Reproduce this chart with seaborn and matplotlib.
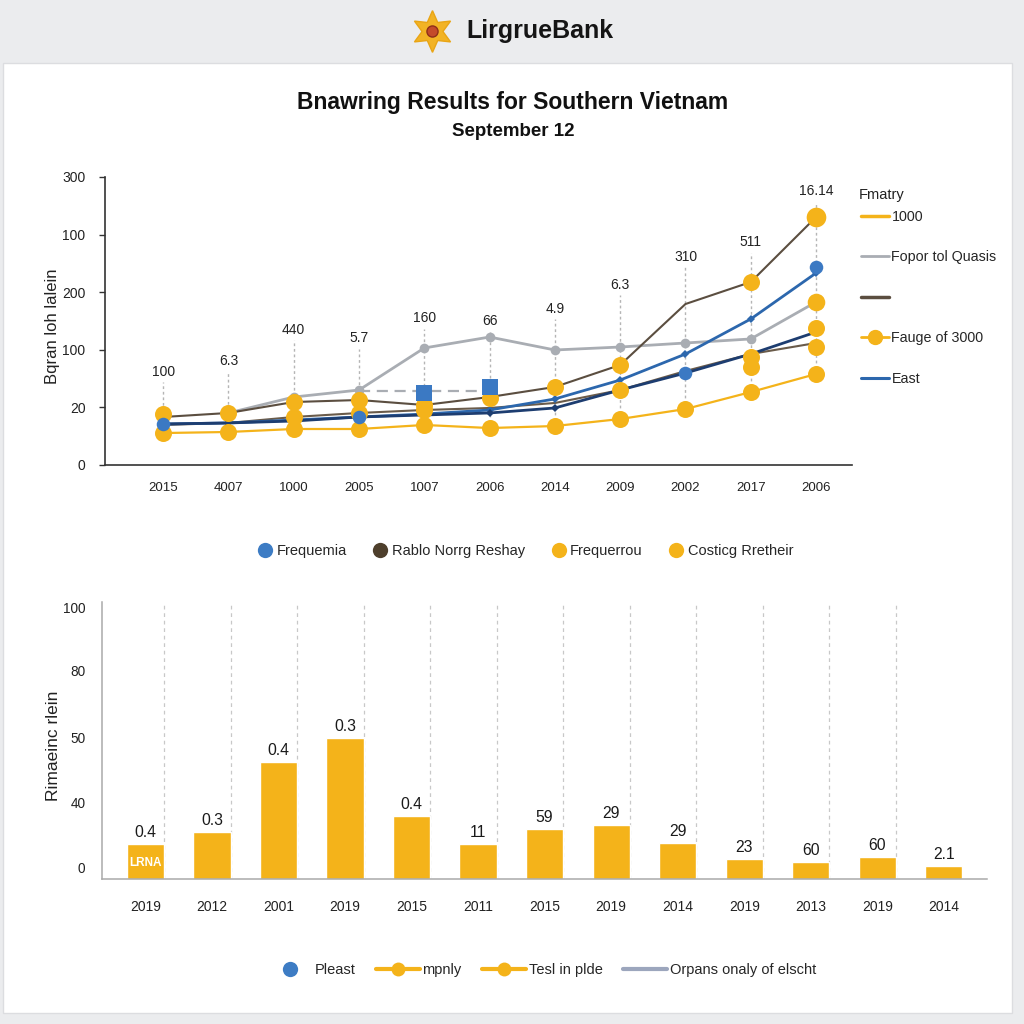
import numpy as np
import pandas as pd
import matplotlib
matplotlib.use("Agg")
import matplotlib.pyplot as plt
import seaborn as sns
from matplotlib.lines import Line2D
from matplotlib.patches import Rectangle

sns.set_theme(style="white")
plt.rcParams["font.family"] = ["Liberation Sans", "DejaVu Sans"]

nan = np.nan

# ---------------- data: top line chart ----------------
top_years = ["2015", "4007", "1000", "2005", "1007", "2006", "2014", "2009", "2002", "2017", "2006"]
top_annots = ["100", "6.3", "440", "5.7", "160", "66", "4.9", "6.3", "310", "511", "16.14"]
top_annot_heights = [97, 108, 141, 132, 153, 150, 163, 188, 217, 232, 285]
top_ytick_labels = ["0", "20", "100", "200", "100", "300"]

brown_upper = [50.0, 54.2, 65.6, 67.7, 62.5, 70.8, 81.3, 104.2, 167.7, 190.6, 258.3]
gray_series = [nan, 54.2, 70.8, 78.1, 121.9, 133.3, 119.8, 122.9, 127.1, 131.3, 169.8]
gray_dash = [nan, nan, nan, 77.1, 77.1, 77.1, nan, nan, nan, nan, nan]
blue_squares = [nan, nan, nan, nan, 75.0, 81.3, nan, nan, nan, nan, nan]
navy_series = [42.7, 43.8, 45.8, 50.0, 52.1, 54.2, 59.4, 78.1, 95.8, 115.6, 138.5]
blue_series = [42.7, 43.8, 46.9, 50.0, 53.1, 57.3, 68.8, 88.5, 115.6, 152.1, 200.0]
brown_lower = [41.7, 43.8, 50.0, 54.2, 57.3, 59.4, 64.6, 78.1, 97.9, 115.6, 127.1]
gold_low = [33.3, 34.4, 37.5, 37.5, 41.7, 38.5, 40.6, 47.9, 58.3, 76.0, 94.8]
gold_upper = [53.1, 54.2, 65.6, 67.7, 62.5, 69.8, 81.3, 104.2, nan, 190.6, nan]
gold_big = [nan, nan, nan, nan, nan, nan, nan, nan, nan, nan, 258.3]
gold_mid = [nan, nan, 50.0, 54.2, 57.3, nan, nan, 78.1, nan, 112.5, 142.7]
gold_extra = [nan, nan, nan, nan, nan, nan, nan, nan, nan, 102.1, 122.9]
gold_end = [nan, nan, nan, nan, nan, nan, nan, nan, nan, nan, 169.8]
blue_dots = [42.7, nan, nan, 50.0, nan, nan, nan, nan, 95.8, nan, 206.3]

# ---------------- data: bottom bar chart ----------------
bar_years = ["2019", "2012", "2001", "2019", "2015", "2011", "2015", "2019", "2014", "2019", "2013", "2019", "2014"]
bar_values = [13.5, 18.1, 45.2, 54.4, 24.3, 13.5, 19.3, 20.8, 13.9, 7.7, 6.6, 8.5, 5.0]
bar_labels = ["0.4", "0.3", "0.4", "0.3", "0.4", "11", "59", "29", "29", "23", "60", "60", "2.1"]
bar_ytick_labels = ["0", "40", "50", "80", "100"]

# ---------------- colours ----------------
GOLD = "#F4B31A"
BROWN = "#5b4e40"
NAVY = "#1d3d70"
BLUE = "#2c67ad"
BLUE_DOT = "#3b79c3"
GRAY = "#a9adb3"

fig = plt.figure(figsize=(10.24, 10.24), dpi=100)
fig.patch.set_facecolor("#ebecee")
fig.add_artist(Rectangle((3 / 1024, 1 - 1013 / 1024), 1009 / 1024, 950 / 1024,
                         transform=fig.transFigure, facecolor="white",
                         edgecolor="#dcdde0", lw=1, zorder=0))

# header logo + name
fig.add_artist(Line2D([432 / 1024], [1 - 31 / 1024], marker=(6, 1, 0), markersize=30,
                      color="#F2B325", markeredgecolor="#E9A515", transform=fig.transFigure))
fig.add_artist(Line2D([432 / 1024], [1 - 31 / 1024], marker="o", markersize=8,
                      color="#c44a2a", markeredgecolor="#8e2f1a", transform=fig.transFigure))
fig.text(466 / 1024, 1 - 31 / 1024, "LirgrueBank", fontsize=18, fontweight="bold",
         color="#151515", va="center", ha="left")

fig.text(0.501, 1 - 102 / 1024, "Bnawring Results for Southern Vietnam",
         fontsize=16.5, fontweight="bold", color="#111111", ha="center", va="center")
fig.text(0.501, 1 - 131 / 1024, "September 12", fontsize=13.5, fontweight="bold",
         color="#111111", ha="center", va="center")

# ---------------- top chart ----------------
ax1 = fig.add_axes([105 / 1024, 1 - 465 / 1024, 747 / 1024, 288 / 1024])
ax1.set_facecolor("none")
idx = np.arange(len(top_years))

def s(vals):
    ser = pd.Series(vals, index=idx, dtype=float)
    return ser.dropna()

# vertical dotted guide lines + annotations
all_series = [brown_upper, gray_series, navy_series, blue_series, brown_lower, gold_low]
for i in idx:
    low = np.nanmin([a[i] for a in all_series])
    ax1.vlines(i, low, top_annot_heights[i] - 11, colors="#b5b5b5", linestyles=(0, (2, 2)),
               lw=1, zorder=1)
    ax1.text(i, top_annot_heights[i], top_annots[i], ha="center", va="center",
             fontsize=10, color="#222222")

g = s(gray_series)
sns.lineplot(x=g.index, y=g.values, ax=ax1, color=GRAY, lw=2, marker="o", markersize=7,
             markeredgewidth=0, zorder=2)
gd = s(gray_dash)
sns.lineplot(x=gd.index, y=gd.values, ax=ax1, color=GRAY, lw=1.6, dashes=False,
             linestyle=(0, (5, 3)), zorder=2)
b = s(brown_upper)
sns.lineplot(x=b.index, y=b.values, ax=ax1, color=BROWN, lw=1.5, zorder=3)
bl = s(brown_lower)
sns.lineplot(x=bl.index, y=bl.values, ax=ax1, color="#6a5b4a", lw=1.5, zorder=3)
bs = s(blue_series)
sns.lineplot(x=bs.index, y=bs.values, ax=ax1, color=BLUE, lw=2, marker="D", markersize=4,
             markeredgewidth=0, zorder=4)
ns = s(navy_series)
sns.lineplot(x=ns.index, y=ns.values, ax=ax1, color=NAVY, lw=2, marker="D", markersize=4,
             markeredgewidth=0, zorder=4)
gl = s(gold_low)
sns.lineplot(x=gl.index, y=gl.values, ax=ax1, color=GOLD, lw=1.6, zorder=4)

for arr, size in [(gold_low, 150), (gold_upper, 150), (gold_mid, 150), (gold_extra, 150),
                  (gold_end, 160), (gold_big, 200)]:
    ss = s(arr)
    sns.scatterplot(x=ss.index, y=ss.values, ax=ax1, color=GOLD, s=size, linewidth=0,
                    zorder=5, legend=False)
bd = s(blue_dots)
sns.scatterplot(x=bd.index, y=bd.values, ax=ax1, color=BLUE_DOT, s=95, linewidth=0,
                zorder=6, legend=False)
bq = s(blue_squares)
sns.scatterplot(x=bq.index, y=bq.values, ax=ax1, color=BLUE_DOT, marker="s", s=120,
                linewidth=0, zorder=6, legend=False)

ax1.set_xlim(-0.89, 10.55)
ax1.set_ylim(0, 300)
ax1.set_yticks(np.linspace(0, 300, len(top_ytick_labels)), labels=top_ytick_labels)
ax1.set_xticks(idx, labels=top_years)
ax1.set_xticks(np.arange(-0.5, 11, 1), minor=True)
ax1.tick_params(axis="x", which="major", length=0, pad=12, labelsize=9.5, labelcolor="#222")
ax1.tick_params(axis="x", which="minor", length=4, width=1, color="#333", direction="out")
ax1.tick_params(axis="y", length=4, width=1, color="#333", labelsize=10, labelcolor="#222",
                left=True, pad=10)
for sp in ["top", "right"]:
    ax1.spines[sp].set_visible(False)
for sp in ["left", "bottom"]:
    ax1.spines[sp].set_color("#333333")
    ax1.spines[sp].set_linewidth(1.2)
ax1.set_xlabel("")
ax1.set_ylabel("")
fig.text(53 / 1024, 1 - 326 / 1024, "Bqran loh lalein", rotation=90, fontsize=12,
         color="#222", ha="center", va="center")

# top legend
fig.text(859 / 1024, 1 - 195 / 1024, "Fmatry", fontsize=10.5, color="#222",
         ha="left", va="center")
h_top = [
    Line2D([], [], color=GOLD, lw=2.5),
    Line2D([], [], color=GRAY, lw=2),
    Line2D([], [], color=BROWN, lw=2.5),
    Line2D([], [], color=GOLD, lw=2, marker="o", markersize=10),
    Line2D([], [], color=BLUE, lw=2.2),
]
lab_top = ["1000", "Fopor tol Quasis", "", "Fauge of 3000", "East"]
fig.legend(h_top, lab_top, loc="upper left",
           bbox_to_anchor=(855 / 1024, 1 - 204 / 1024), frameon=False,
           fontsize=10.3, labelspacing=1.85, handlelength=2.0,
           handletextpad=0.15, borderaxespad=0)

# middle legend
h_mid = [Line2D([], [], ls="", marker="o", markersize=11, color=c, markeredgewidth=0)
         for c in ["#3d7cc4", "#4e3f2c", GOLD, GOLD]]
lab_mid = ["Frequemia", "Rablo Norrg Reshay", "Frequerrou", "Costicg Rretheir"]
fig.legend(h_mid, lab_mid, loc="center", bbox_to_anchor=(524 / 1024, 1 - 551 / 1024),
           ncol=4, frameon=False, fontsize=10.5, handletextpad=0.1, columnspacing=1.6,
           handlelength=1.4)

# ---------------- bottom bar chart ----------------
ax2 = fig.add_axes([102 / 1024, 1 - 879 / 1024, 885 / 1024, 277 / 1024])
ax2.set_facecolor("none")
bidx = np.arange(len(bar_values))
for i in bidx[:-1]:
    ax2.axvline(i + 0.28, color="#c8c8c8", ls=(0, (3, 3)), lw=0.9, zorder=0)
sns.barplot(x=bidx, y=bar_values, ax=ax2, color=GOLD, width=0.56, saturation=1,
            zorder=2)
ax2.bar_label(ax2.containers[0], labels=bar_labels, padding=3, fontsize=11.3, color="#1a1a1a")
ax2.text(0, 6.3, "LRNA", ha="center", va="center", fontsize=8.5, fontweight="bold",
         color="white", zorder=3)
ax2.set_xlim(-0.654, 12.65)
ax2.set_ylim(0, 106.9)
ax2.set_yticks([4.6, 29.7, 54.8, 80.3, 104.6], labels=bar_ytick_labels)
ax2.set_xticks(bidx, labels=bar_years)
ax2.tick_params(axis="x", length=0, pad=15, labelsize=10, labelcolor="#222")
ax2.tick_params(axis="y", length=0, pad=12, labelsize=9.8, labelcolor="#222")
for sp in ["top", "right"]:
    ax2.spines[sp].set_visible(False)
for sp in ["left", "bottom"]:
    ax2.spines[sp].set_color("#aaaaaa")
    ax2.spines[sp].set_linewidth(1.1)
ax2.set_xlabel("")
ax2.set_ylabel("")
fig.text(53 / 1024, 1 - 746 / 1024, "Rimaeinc rlein", rotation=90, fontsize=12.5,
         color="#222", ha="center", va="center")

# bottom legend
h_bot = [
    Line2D([], [], ls="", marker="o", markersize=11, color="#3d7cc4", markeredgewidth=0),
    Line2D([], [], color=GOLD, lw=3, marker="o", markersize=10, markeredgewidth=0),
    Line2D([], [], color=GOLD, lw=3, marker="o", markersize=10, markeredgewidth=0),
    Line2D([], [], color="#9ca6bd", lw=3),
]
lab_bot = ["Pleast", "mpnly", "Tesl in plde", "Orpans onaly of elscht"]
fig.legend(h_bot, lab_bot, loc="center", bbox_to_anchor=(542 / 1024, 1 - 970 / 1024),
           ncol=4, frameon=False, fontsize=10.5, handletextpad=0.2, columnspacing=1.4,
           handlelength=3.0)

fig.savefig("out.png", dpi=100, facecolor=fig.get_facecolor())
